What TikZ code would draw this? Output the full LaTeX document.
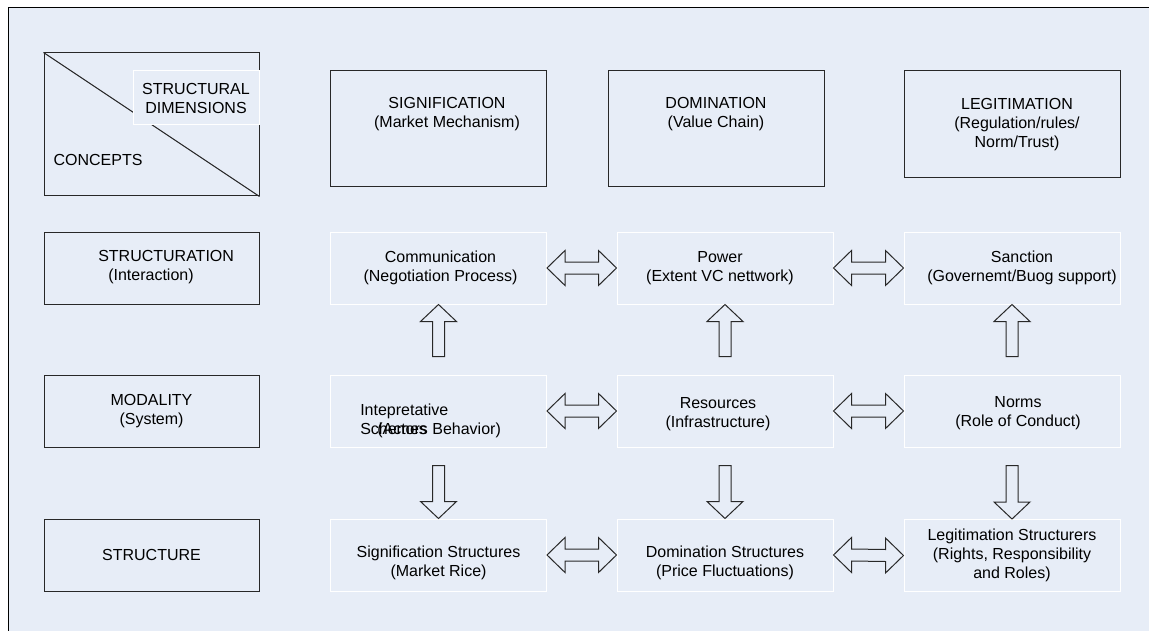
\documentclass[tikz,border=0pt]{standalone}
\usepackage{fontspec}
\setmainfont{Liberation Sans}
\usepackage{tikz}
\usetikzlibrary{calc}
\usetikzlibrary{positioning}
\definecolor{bgblue}{RGB}{231,237,247}
\definecolor{boxline}{RGB}{40,40,40}

\newcommand{\hblk}[2]{%
  \draw[blk] (#1.east) -- ($(#1.east)+(18,-17.5)$) -- ($(#1.east)+(18,-6)$) -- ($(#2.west)+(-18,-6)$) -- ($(#2.west)+(-18,-17.5)$) -- (#2.west) -- ($(#2.west)+(-18,17.5)$) -- ($(#2.west)+(-18,6)$) -- ($(#1.east)+(18,6)$) -- ($(#1.east)+(18,17.5)$) -- cycle;}
\newcommand{\upblk}[2]{%
  \draw[blk] (#2.south) -- ($(#2.south)+(18,17)$) -- ($(#2.south)+(6,17)$) -- ($(#1.north)+(6,-18)$) -- ($(#1.north)+(-6,-18)$) -- ($(#2.south)+(-6,17)$) -- ($(#2.south)+(-18,17)$) -- cycle;}
\newcommand{\dnblk}[2]{%
  \draw[blk] (#2.north) -- ($(#2.north)+(18,-17)$) -- ($(#2.north)+(6,-17)$) -- ($(#1.south)+(6,18)$) -- ($(#1.south)+(-6,18)$) -- ($(#2.north)+(-6,-17)$) -- ($(#2.north)+(-18,-17)$) -- cycle;}

\begin{document}
\begin{tikzpicture}[x=0.75pt,y=-0.75pt,
  every node/.style={inner sep=0pt, font=\fontsize{12}{14.25}\selectfont},
  dimbox/.style={draw=boxline, line width=0.75pt, minimum width=162pt},
  rowbox/.style={draw=boxline, line width=0.75pt, minimum width=161.25pt, minimum height=54pt},
  cellbox/.style={draw=white, line width=0.75pt, minimum width=162pt, minimum height=54pt},
  txt/.style={align=center},
  blk/.style={draw=boxline, line width=0.75pt, line join=miter}]
  \useasboundingbox (0,0) rectangle (1149,631);
  \fill[white] (0,0) rectangle (1149,631);
  \fill[bgblue] (8,8) rectangle (1149,631);
  \draw[line width=0.75pt] (8,631) -- (8,8) -- (1149,8);

  \node[dimbox, minimum width=161.25pt, minimum height=107.25pt] (concepts) at (151.5,124.5) {};
  \draw[boxline, line width=0.75pt] (concepts.north west) -- (concepts.south east);
  \node[draw=white, fill=bgblue, line width=0.75pt, minimum width=94.5pt, minimum height=40.5pt, txt] (dims) at (196,98) {STRUCTURAL\\DIMENSIONS};
  \node (concepts-t) at (98,160) {CONCEPTS};

  \node[dimbox, minimum height=87pt] (sig) at (438,129) {};
  \node[txt] (sig-t) at ($(sig)+(9,-14.5)$) {SIGNIFICATION\\(Market Mechanism)};
  \node[dimbox, minimum height=87pt] (dom) at (716,129) {};
  \node[txt] (dom-t) at ($(dom)+(0,-14.5)$) {DOMINATION\\(Value Chain)};
  \node[dimbox, minimum height=80.25pt] (leg) at (1012,124.5) {};
  \node[txt] (leg-t) at ($(leg)+(5,0)$) {LEGITIMATION\\(Regulation/rules/\\Norm/Trust)};

  \node[rowbox] (strn) at (151.5,268) {};
  \node[align=left, anchor=west] (strn-t) at (98,267) {STRUCTURATION\\\hspace*{7.5pt}(Interaction)};
  \node[rowbox] (moda) at (151.5,411) {};
  \node[txt] (moda-t) at (moda) {MODALITY\\(System)};
  \node[rowbox] (stru) at (151.5,555) {};
  \node (stru-t) at (stru) {STRUCTURE};

  \node[cellbox] (comm) at (438.5,268) {};
  \node[txt] (comm-t) at ($(comm)+(2,0)$) {Communication\\(Negotiation Process)};
  \node[cellbox] (powr) at (725,268) {};
  \node[txt] (powr-t) at ($(powr)+(-5,0)$) {Power\\(Extent VC nettwork)};
  \node[cellbox] (sanc) at (1012,268) {};
  \node[txt] (sanc-t) at ($(sanc)+(10,0)$) {Sanction\\(Governemt/Buog support)};

  \node[cellbox] (intp) at (438.5,411) {};
  \node[align=left, anchor=west] (intp-t) at (360,420.5) {Intepretative\\\rlap{Schemes}\hspace*{12.75pt}(Actors Behavior)};
  \node[cellbox] (reso) at (725,411) {};
  \node[txt] (reso-t) at ($(reso)+(-7,3)$) {Resources\\(Infrastructure)};
  \node[cellbox] (norm) at (1012,411) {};
  \node[txt] (norm-t) at ($(norm)+(6,2)$) {Norms\\(Role of Conduct)};

  \node[cellbox] (sigs) at (438.5,555) {};
  \node[txt] (sigs-t) at ($(sigs)+(0,8)$) {Signification Structures\\(Market Rice)};
  \node[cellbox] (doms) at (725,555) {};
  \node[txt] (doms-t) at ($(doms)+(0,8)$) {Domination Structures\\(Price Fluctuations)};
  \node[cellbox] (legs) at (1012,555.5) {};
  \node[txt] (legs-t) at (legs) {Legitimation Structurers\\(Rights, Responsibility\\and Roles)};

  \foreach \a/\b in {comm/powr, powr/sanc, intp/reso, reso/norm, sigs/doms, doms/legs}
    \hblk{\a}{\b};
  \foreach \a/\b in {intp/comm, reso/powr, norm/sanc}
    \upblk{\a}{\b};
  \foreach \a/\b in {intp/sigs, reso/doms, norm/legs}
    \dnblk{\a}{\b};
\end{tikzpicture}
\end{document}
